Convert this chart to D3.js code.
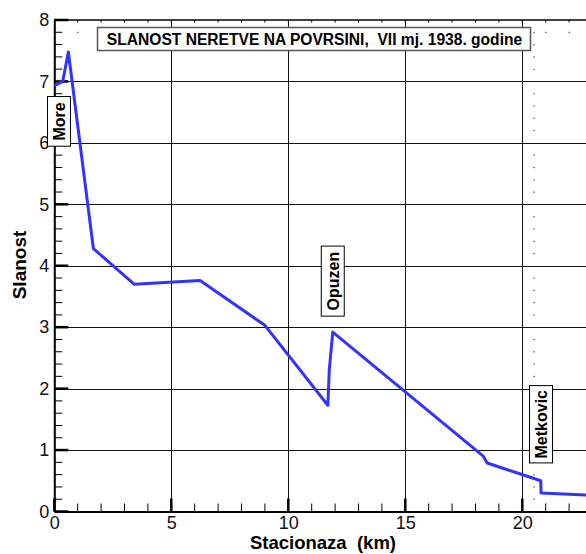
<!DOCTYPE html>
<html><head><meta charset="utf-8">
<script src="https://cdn.jsdelivr.net/npm/d3@7"></script>
<style>body{margin:0;background:#fff}svg{display:block}text{font-family:"Liberation Sans",Arial,sans-serif}</style>
</head><body>
<svg id="c" width="586" height="554"></svg>
<script>
const stationKm = [0, 0.36, 0.6, 1.67, 3.41, 6.23, 9.0, 11.69, 11.75, 11.9, 18.33, 18.5, 20.79, 20.8, 22.74];
const salinity  = [6.93, 7.0, 7.48, 4.28, 3.70, 3.76, 3.03, 1.73, 2.3, 2.92, 0.90, 0.79, 0.50, 0.30, 0.27];
const xTicks = [0, 5, 10, 15, 20];
const yTicks = [0, 1, 2, 3, 4, 5, 6, 7, 8];
const title = "SLANOST NERETVE NA POVRSINI,  VII mj. 1938. godine";
const places = ["More", "Opuzen", "Metkovic"];
const placeKm = [0.2, 11.9, 20.8];
const placeY = [6.35, 3.75, 1.42];
const markerKm = 20.5;

const svg = d3.select("#c");
const x = d3.scaleLinear().domain([0, 25]).range([54.3, 54.3 + 25 * 23.4]);
const y = d3.scaleLinear().domain([0, 8]).range([511.5, 20]);

// grid
const g = svg.append("g");
g.selectAll(".vg").data(xTicks.filter(d => d > 0)).join("line")
  .attr("x1", d => Math.round(x(d)) + 0.5).attr("x2", d => Math.round(x(d)) + 0.5)
  .attr("y1", y(8)).attr("y2", y(0)).attr("stroke", "#111").attr("stroke-width", 1);
g.selectAll(".hg").data(yTicks.filter(d => d > 0 && d < 8)).join("line")
  .attr("y1", d => Math.round(y(d)) + 0.5).attr("y2", d => Math.round(y(d)) + 0.5)
  .attr("x1", x(0)).attr("x2", 586).attr("stroke", "#111").attr("stroke-width", 1);

// dotted markers
const minorY = d3.range(1, 40).map(i => i * 0.2).filter(v => Math.abs(v - Math.round(v)) > 0.01);
g.selectAll(".dm").data(minorY).join("rect")
  .attr("x", x(markerKm) - 0.5).attr("y", d => y(d) - 0.5).attr("width", 1.2).attr("height", 1.2).attr("fill", "#333");
g.selectAll(".dt").data(d3.range(1, 24)).join("rect")
  .attr("x", d => x(d) - 0.5).attr("y", y(7.8) - 0.5).attr("width", 1.2).attr("height", 1.2).attr("fill", "#333");

// top border with small ticks
g.append("line").attr("x1", x(0)).attr("x2", 586).attr("y1", y(8)).attr("y2", y(8)).attr("stroke", "#000").attr("stroke-width", 1.5);
g.selectAll(".tt").data(d3.range(1, 25)).join("line")
  .attr("x1", d => x(d)).attr("x2", d => x(d)).attr("y1", y(8)).attr("y2", y(8) + 2.5)
  .attr("stroke", "#000").attr("stroke-width", 1);

// axes
const yAxis = d3.axisLeft(y).tickValues(yTicks).tickSize(0).tickPadding(4).tickFormat(d3.format("d"));
const ya = svg.append("g").attr("transform", `translate(${x(0)},0)`).call(yAxis);
ya.select(".domain").attr("stroke", "#000").attr("stroke-width", 2);
ya.selectAll("text").attr("font-size", 18).attr("fill", "#111").attr("dx", -1);
const xAxis = d3.axisBottom(x).tickValues(xTicks).tickSize(0).tickPadding(5);
const xa = svg.append("g").attr("transform", `translate(0,${y(0)})`).call(xAxis);
xa.select(".domain").attr("stroke", "#000").attr("stroke-width", 2);
xa.selectAll("text").attr("font-size", 18).attr("fill", "#111");

// inside ticks
const yMinor = d3.range(0, 41).map(i => i * 0.2);
svg.append("g").selectAll("line").data(yMinor).join("line")
  .attr("x1", x(0)).attr("x2", d => x(0) + (Math.abs(d - Math.round(d)) < 0.01 ? 14 : 8))
  .attr("y1", d => y(d)).attr("y2", d => y(d))
  .attr("stroke", "#000").attr("stroke-width", d => Math.abs(d - Math.round(d)) < 0.01 ? 2.5 : 1);
svg.append("g").selectAll("line").data(d3.range(0, 26)).join("line")
  .attr("x1", d => x(d)).attr("x2", d => x(d))
  .attr("y1", y(0)).attr("y2", d => y(0) - (d % 5 === 0 ? 13 : 8))
  .attr("stroke", "#000").attr("stroke-width", d => d % 5 === 0 ? 2.5 : 1);

// data line
svg.append("path").datum(d3.zip(stationKm, salinity))
  .attr("d", d3.line().x(d => x(d[0])).y(d => y(d[1])))
  .attr("fill", "none").attr("stroke", "#3333ff").attr("stroke-width", 3).attr("stroke-linejoin", "round");

// title box
const tb = svg.append("g");
tb.append("rect").attr("x", 97.5).attr("y", 27.5).attr("width", 433).attr("height", 23)
  .attr("fill", "#fff").attr("stroke", "#555").attr("stroke-width", 1.5);
tb.append("text").attr("x", 314.5).attr("y", 44.5).attr("text-anchor", "middle")
  .attr("font-size", 15.6).attr("font-weight", "bold").attr("fill", "#000").attr("xml:space", "preserve").text(title);

// place labels
const boxH = [49.7, 70, 77.3];
places.forEach((p, i) => {
  const cx = x(placeKm[i]);
  const cy = y(placeY[i]);
  const grp = svg.append("g").attr("transform", `translate(${cx},${cy})`);
  grp.append("rect").attr("x", -11.5).attr("y", -boxH[i] / 2).attr("width", 23).attr("height", boxH[i])
    .attr("fill", "#fff").attr("stroke", "#000").attr("stroke-width", 1);
  grp.append("text").attr("transform", "rotate(-90)").attr("text-anchor", "middle").attr("dy", 5.8)
    .attr("font-size", 16).attr("font-weight", "bold").attr("fill", "#000").text(p);
});

// axis titles
svg.append("text").attr("transform", `translate(26,265) rotate(-90)`).attr("text-anchor", "middle")
  .attr("font-size", 19).attr("font-weight", "bold").attr("fill", "#000").text("Slanost");
svg.append("text").attr("x", 323).attr("y", 549).attr("text-anchor", "middle").attr("xml:space", "preserve")
  .attr("font-size", 18.5).attr("font-weight", "bold").attr("fill", "#000").text("Stacionaza  (km)");
</script>
</body></html>
